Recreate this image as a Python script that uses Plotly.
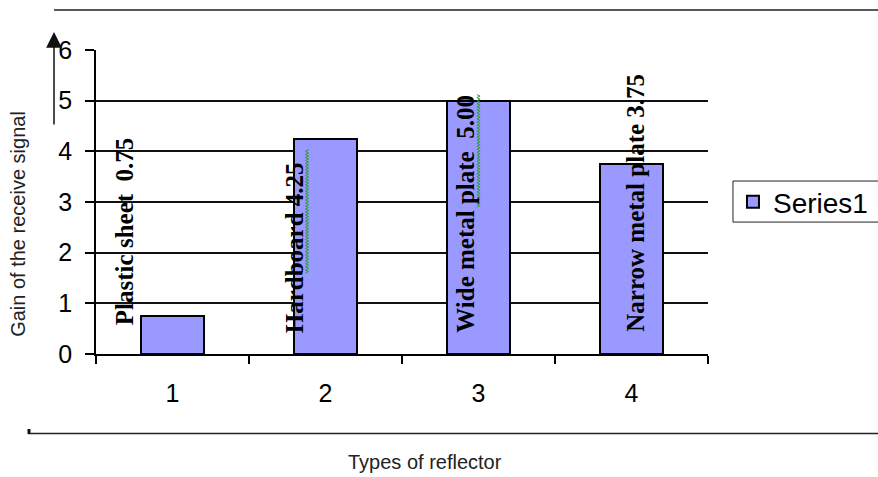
import plotly.graph_objects as go

# Reflector types and measured gain of the received signal
categories = [1, 2, 3, 4]
tick_labels = ["1", "2", "3", "4"]
reflector_names = ["Plastic sheet", "Hardboard", "Wide metal plate", "Narrow metal plate"]
name_value_gap = ["\u00a0\u00a0", " ", "\u00a0\u00a0", " "]
gains = [0.75, 4.25, 5.00, 3.75]

# Placement of the rotated reflector labels (pixel shift, baseline height)
label_xshift = [-48, -31, -13, 4]
label_base = [0.53, 0.37, 0.37, 0.39]

BAR_COLOR = "#9999FF"
SANS = "Liberation Sans, Arial, sans-serif"
SERIF = "Liberation Serif, Times New Roman, serif"

fig = go.Figure(
    go.Bar(
        x=categories,
        y=gains,
        width=0.41,
        name="Series1",
        showlegend=True,
        marker=dict(color=BAR_COLOR, line=dict(color="black", width=2)),
    )
)

# Rotated text labels naming each reflector with its gain
for cat, name, gap, val, dx, yb in zip(categories, reflector_names, name_value_gap,
                                        gains, label_xshift, label_base):
    fig.add_annotation(
        x=cat, y=yb, xref="x", yref="y",
        text=f"<b>{name}{gap}{val:.2f}</b>",
        textangle=-90, showarrow=False,
        xanchor="center", yanchor="bottom", xshift=dx,
        font=dict(family=SERIF, size=25, color="black"),
    )

# Green wavy proofing underline beside two of the labels
def squiggle(dx, y_top, y_bottom, step=0.03, amp=1.6):
    pts = []
    y = y_bottom
    k = 0
    while y <= y_top:
        pts.append(f"{dx + (amp if k % 2 else -amp):.2f},{y:.4f}")
        y += step
        k += 1
    return "M" + " L".join(pts)

for cat, dx, y0, y1 in [(2, -18.5, 4.03, 1.60), (3, 0.0, 5.15, 2.90)]:
    fig.add_shape(
        type="path", xref="x", yref="y", xsizemode="pixel", xanchor=cat,
        path=squiggle(dx, y0, y1),
        line=dict(color="#2AA02A", width=1),
    )

# Frame lines around the chart
fig.add_shape(type="line", xref="paper", yref="paper",
              x0=-0.0686, x1=1.35, y0=1.1316, y1=1.1316,
              line=dict(color="#222222", width=1.5))
fig.add_shape(type="line", xref="paper", yref="paper",
              x0=-0.1111, x1=1.35, y0=-0.2615, y1=-0.2615,
              line=dict(color="#222222", width=1.5))
fig.add_shape(type="line", xref="paper", yref="paper",
              x0=-0.1095, x1=-0.1095, y0=-0.2467, y1=-0.2630,
              line=dict(color="#111111", width=3))

# Legend frame, running off the right edge of the page
fig.add_shape(type="rect", xref="paper", yref="paper",
              x0=1.0408, x1=1.35, y0=0.434, y1=0.569,
              line=dict(color="#222222", width=1), fillcolor="white",
              layer="below")

# Upward arrow next to the value axis
fig.add_annotation(
    x=-0.0686, y=1.059, xref="paper", yref="paper",
    ax=0, ay=94, axref="pixel", ayref="pixel",
    text="", showarrow=True, arrowhead=2, arrowsize=2.1,
    arrowwidth=1.5, arrowcolor="#111111",
)

# Axis titles
fig.add_annotation(
    x=-0.1275, y=0.428, xref="paper", yref="paper",
    xanchor="center", yanchor="middle",
    text="Gain of the receive signal", textangle=-90, showarrow=False,
    font=dict(family=SANS, size=20, color="#222222"),
)
fig.add_annotation(
    x=(425 - 96) / 612, y=(354 - 462) / 304, xref="paper", yref="paper",
    xanchor="center", yanchor="middle",
    text="Types of reflector", showarrow=False,
    font=dict(family=SANS, size=20, color="#222222"),
)

fig.update_layout(
    width=878, height=477,
    margin=dict(l=96, r=170, t=50, b=123, autoexpand=False),
    paper_bgcolor="white", plot_bgcolor="white",
    bargap=0,
    legend=dict(
        x=1.0408, y=0.5, xanchor="left", yanchor="middle",
        borderwidth=0, bgcolor="rgba(0,0,0,0)",
        font=dict(family=SANS, size=28, color="black"),
    ),
    xaxis=dict(
        range=[0.5, 4.5],
        tickmode="array", tickvals=categories, ticktext=tick_labels,
        ticks="", showgrid=False, zeroline=False,
        showline=True, linecolor="black", linewidth=1.5,
        tickfont=dict(family=SANS, size=25, color="black"),
        ticklabelstandoff=16,
        minor=dict(tickmode="linear", tick0=0.5, dtick=1, ticks="outside",
                   ticklen=8, tickwidth=1.5, tickcolor="black", showgrid=False),
    ),
    yaxis=dict(
        range=[0, 6], dtick=1, tick0=0,
        ticks="outside", ticklen=9, tickwidth=1.5, tickcolor="black",
        showgrid=True, gridcolor="#111111", gridwidth=1.5,
        zeroline=False, showline=True, linecolor="black", linewidth=1.5,
        tickfont=dict(family=SANS, size=25, color="black"),
        ticklabelstandoff=8,
    ),
)

fig.write_html("out.html")
